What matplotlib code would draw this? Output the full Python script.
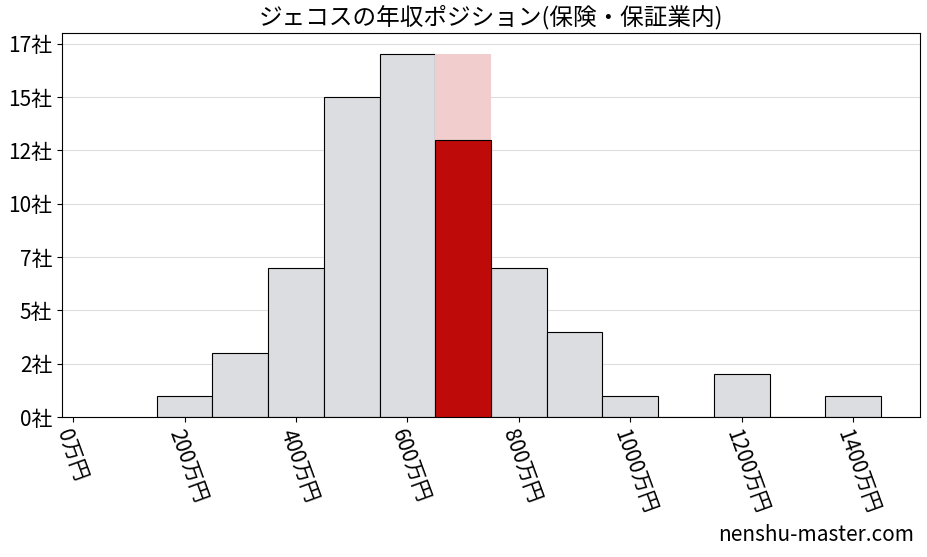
import numpy as np
import matplotlib
matplotlib.use("Agg")
import matplotlib.pyplot as plt

plt.rcParams['font.family'] = ['Noto Sans CJK JP', 'DejaVu Sans']

bin_centers = [200, 300, 400, 500, 600, 700, 800, 900, 1000, 1100, 1200, 1300, 1400]
counts = [1, 3, 7, 15, 17, 17, 7, 4, 1, 0, 2, 0, 1]
highlight_center = 700
highlight_count = 13
yticks = [0, 2.5, 5, 7.5, 10, 12.5, 15, 17.5]
xticks = [0, 200, 400, 600, 800, 1000, 1200, 1400]
title = "ジェコスの年収ポジション(保険・保証業内)"

fig = plt.figure(figsize=(9.28, 5.57), dpi=100)
ax = fig.add_axes([62 / 928, 140 / 557, 858 / 928, 384 / 557])

colors = ['#f2cdcd' if c == highlight_center else '#dcdde0' for c in bin_centers]
edges = ['none' if c == highlight_center else 'black' for c in bin_centers]
ax.bar(bin_centers, counts, width=100, color=colors, edgecolor=edges, linewidth=0.8, zorder=2)
ax.bar([highlight_center], [highlight_count], width=100, color='#bf0a0a',
       edgecolor='black', linewidth=0.8, zorder=3)

ax.set_xlim(-20, 1520)
ax.set_ylim(0, 18)
ax.set_yticks(yticks)
ax.set_yticklabels([f"{int(v)}社" for v in yticks], fontsize=15)
ax.set_xticks(xticks)
ax.set_xticklabels([f"{v}万円" for v in xticks], fontsize=15, rotation=-70,
                   ha='left', va='top', rotation_mode='anchor')
ax.grid(axis='y', color='#dddddd', linewidth=0.8, zorder=0)
ax.set_axisbelow(True)
ax.set_title(title, fontsize=17, pad=6)
fig.text(0.985, 0.02, "nenshu-master.com", ha='right', va='bottom', fontsize=15)

fig.savefig("out.png", dpi=100)
